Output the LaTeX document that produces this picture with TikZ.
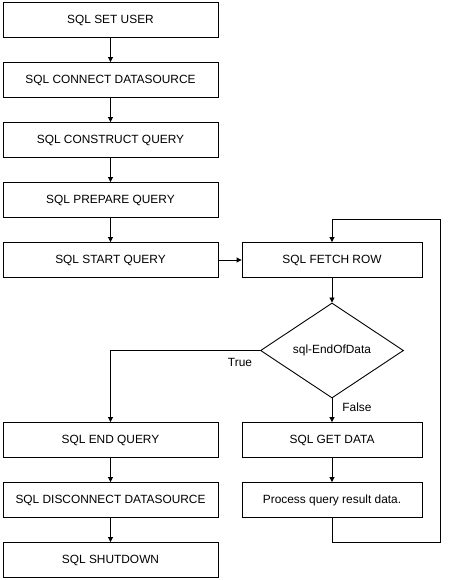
\documentclass[tikz,border=0pt]{standalone}
\usepackage{fontspec}
\setmainfont{Liberation Sans}
\usetikzlibrary{shapes.geometric,arrows.meta}
\begin{document}
\begin{tikzpicture}[x=1pt,y=-1pt,
  box/.style={draw,line width=0.9pt,rectangle,minimum height=35pt,inner sep=0pt,font=\fontsize{11.9}{13}\selectfont},
  lbox/.style={box,minimum width=215pt},
  rbox/.style={box,minimum width=180pt},
  dec/.style={draw,line width=0.9pt,diamond,aspect=1.5,inner sep=0pt,minimum width=143pt,minimum height=95pt,font=\fontsize{11.9}{13}\selectfont},
  lbl/.style={font=\fontsize{11.9}{13}\selectfont,inner sep=0pt},
  arr/.style={line width=0.9pt,-{Triangle[length=5pt,width=5pt]}},
  ln/.style={line width=0.9pt}]
\useasboundingbox[fill=white] (0,0) rectangle (466,580);
\node[lbox] (a1) at (110.5,20) {SQL SET USER};
\node[lbox] (a2) at (110.5,80) {SQL CONNECT DATASOURCE};
\node[lbox] (a3) at (110.5,140) {SQL CONSTRUCT QUERY};
\node[lbox] (a4) at (110.5,200) {SQL PREPARE QUERY};
\node[lbox] (a5) at (110.5,260) {SQL START QUERY};
\node[rbox] (f) at (332,260) {SQL FETCH ROW};
\node[dec] (d) at (332,350.5) {sql-EndOfData};
\node[rbox] (g) at (332,440) {SQL GET DATA};
\node[rbox] (p) at (332,500) {Process query result data.};
\node[lbox] (e1) at (110.5,440) {SQL END QUERY};
\node[lbox] (e2) at (110.5,500) {SQL DISCONNECT DATASOURCE};
\node[lbox] (e3) at (110.5,560) {SQL SHUTDOWN};
\coordinate (lb) at (440,542);
\coordinate (lt) at (440,219);
\draw[arr] (a1) -- (a2);
\draw[arr] (a2) -- (a3);
\draw[arr] (a3) -- (a4);
\draw[arr] (a4) -- (a5);
\draw[arr] (a5) -- (f);
\draw[arr] (f) -- (d);
\draw[arr] (d.west) -| (e1.north);
\draw[arr] (d.south) -- (g.north);
\draw[arr] (g) -- (p);
\draw[arr] (e1) -- (e2);
\draw[arr] (e2) -- (e3);
\draw[arr] (p.south) |- (lb) -- (lt) -| (f.north);
\node[lbl] (tl) at (240,362) {True};
\node[lbl] (fl) at (357,407) {False};
\end{tikzpicture}
\end{document}
